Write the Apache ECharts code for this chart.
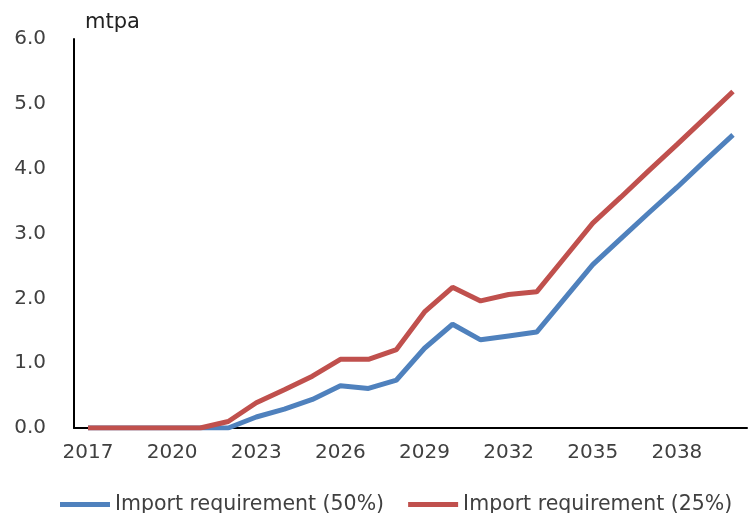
<!DOCTYPE html>
<html>
<head>
<meta charset="utf-8">
<script src="https://cdn.jsdelivr.net/npm/echarts@6/dist/echarts.min.js"></script>
<style>html,body{margin:0;padding:0;background:#fff}#c{width:750px;height:513px}</style>
</head>
<body>
<div id="c"></div>
<script>
var years = ['2017','2018','2019','2020','2021','2022','2023','2024','2025','2026','2027','2028','2029','2030','2031','2032','2033','2034','2035','2036','2037','2038','2039','2040'];
var import50 = [0,0,0,0,0,0,0.17,0.29,0.44,0.65,0.61,0.74,1.23,1.60,1.36,1.42,1.48,2.00,2.52,2.92,3.32,3.71,4.12,4.52];
var import25 = [0,0,0,0,0,0.10,0.39,0.59,0.80,1.06,1.06,1.21,1.79,2.17,1.96,2.06,2.10,2.63,3.16,3.56,3.97,4.37,4.78,5.19];
var yTicks = [0,1,2,3,4,5,6];
var FONT = 'DejaVu Sans';
var chart = echarts.init(document.getElementById('c'));
chart.setOption({
  animation: false,
  backgroundColor: '#fff',
  grid: {left: 74, right: 3, top: 39, bottom: 85, containLabel: false},
  legend: {
    left: 55, top: 489,
    itemWidth: 50, itemHeight: 5, itemGap: 24,
    icon: 'rect',
    textStyle: {fontFamily: FONT, fontSize: 20.5, color: '#404040'},
    data: ['Import requirement (50%)', 'Import requirement (25%)']
  },
  xAxis: {
    type: 'category', data: years, boundaryGap: true,
    axisLine: {lineStyle: {color: '#000', width: 2}},
    axisTick: {show: false},
    axisLabel: {interval: 2, margin: 15, fontFamily: FONT, fontSize: 20, color: '#404040'},
    splitLine: {show: false}
  },
  yAxis: {
    type: 'value', min: 0, max: 6, interval: 1,
    name: 'mtpa', nameLocation: 'end', nameGap: 6,
    nameTextStyle: {fontFamily: FONT, fontSize: 21, color: '#222', align: 'left', padding: [0,0,0,11]},
    axisLine: {show: true, lineStyle: {color: '#000', width: 2}},
    axisTick: {show: false},
    splitLine: {show: false},
    axisLabel: {margin: 28, fontFamily: FONT, fontSize: 20, color: '#404040',
      formatter: function(v){ return yTicks.indexOf(v) >= 0 ? v.toFixed(1) : ''; }}
  },
  series: [
    {name: 'Import requirement (50%)', type: 'line', data: import50, symbol: 'none',
     lineStyle: {color: '#4f81bd', width: 5}, itemStyle: {color: '#4f81bd'}, z: 2},
    {name: 'Import requirement (25%)', type: 'line', data: import25, symbol: 'none',
     lineStyle: {color: '#c0504d', width: 5}, itemStyle: {color: '#c0504d'}, z: 3}
  ]
});
</script>
</body>
</html>
